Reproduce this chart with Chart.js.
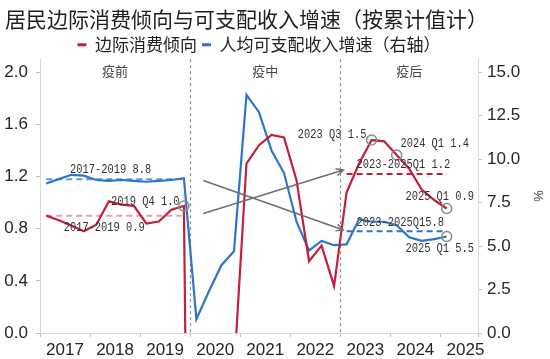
<!DOCTYPE html>
<html lang="zh-CN">
<head>
<meta charset="utf-8">
<title>居民边际消费倾向与可支配收入增速</title>
<script src="https://cdn.jsdelivr.net/npm/chart.js@4.4.1/dist/chart.umd.min.js"></script>
<style>
    html, body { margin: 0; padding: 0; background: #fff; }
    #wrap { width: 550px; height: 359px; }
</style>
</head>
<body>
<div id="wrap"><canvas id="mpcChart" width="550" height="359"></canvas></div>
<script>
(function() {
    'use strict';

    // 季度（2017Q1 ～ 2025Q1）
    const quarters = [
        '2017Q1', '2017Q2', '2017Q3', '2017Q4',
        '2018Q1', '2018Q2', '2018Q3', '2018Q4',
        '2019Q1', '2019Q2', '2019Q3', '2019Q4',
        '2020Q1', '2020Q2', '2020Q3', '2020Q4',
        '2021Q1', '2021Q2', '2021Q3', '2021Q4',
        '2022Q1', '2022Q2', '2022Q3', '2022Q4',
        '2023Q1', '2023Q2', '2023Q3', '2023Q4',
        '2024Q1', '2024Q2', '2024Q3', '2024Q4',
        '2025Q1'
    ];
    const years = ['2017', '2018', '2019', '2020', '2021', '2022', '2023', '2024', '2025'];

    // 边际消费倾向（左轴），2020 年前三季度为负值，落在图外
    const mpcValues = [
        0.90, 0.865, 0.825, 0.78,
        0.83, 1.01, 0.985, 0.975,
        0.84, 0.855, 0.945, 0.975,
        -8.0, -4.0, -1.8, -0.3,
        1.30, 1.44, 1.52, 1.50,
        1.17, 0.55, 0.67, 0.36,
        1.08, 1.30, 1.48, 1.47,
        1.365, 1.26, 1.10, 1.02,
        0.955
    ];

    // 人均可支配收入增速（右轴，%）
    const incomeGrowth = [
        8.6, 8.85, 9.1, 9.05,
        8.8, 8.75, 8.8, 8.75,
        8.7, 8.75, 8.8, 8.9,
        0.8, 2.4, 3.9, 4.7,
        13.7, 12.7, 10.5, 9.2,
        6.4, 4.75, 5.3, 5.05,
        5.1, 6.55, 6.4, 6.4,
        6.2, 5.5, 5.3, 5.4,
        5.55
    ];

    // 分阶段均值
    const mpcAvgPre = 0.9;
    const mpcAvgPost = 1.22;
    const incomeAvgPre = 8.85;
    const incomeAvgPost = 5.85;
    const prePeriod = ['2017Q1', '2019Q4'];
    const postPeriod = ['2023Q1', '2025Q1'];

    // 标注的季度
    const mpcMarked = ['2019Q4', '2023Q3', '2024Q1', '2025Q1'];
    const incomeMarked = ['2025Q1'];

    // 左右轴刻度
    const leftTicks = [0, 0.4, 0.8, 1.2, 1.6, 2.0];
    const rightTicks = [0, 2.5, 5, 7.5, 10, 12.5, 15];

    // 阶段划分
    const periods = [
        { name: '疫前', from: -0.5, to: 11.5 },
        { name: '疫中', from: 11.5, to: 23.5 },
        { name: '疫后', from: 23.5, to: 34.5 }
    ];

    // 箭头（左轴坐标）
    const arrows = [
        { x0: 12.55, y0: 1.17, x1: 23.74, y1: 0.79 },
        { x0: 12.55, y0: 0.917, x1: 23.74, y1: 1.25 }
    ];

    // 注释文字（左轴坐标，左对齐）
    const notes = [
        { text: '2017-2019 8.8', x: 1.9, y: 1.25 },
        { text: '2019 Q4 1.0', x: 5.17, y: 1.01 },
        { text: '2017-2019 0.9', x: 1.39, y: 0.81 },
        { text: '2023 Q3 1.5', x: 20.1, y: 1.52 },
        { text: '2024 Q1 1.4', x: 28.3, y: 1.455 },
        { text: '2023-2025Q1 1.2', x: 24.8, y: 1.295 },
        { text: '2025 Q1 0.9', x: 28.7, y: 1.045 },
        { text: '2023-2025Q15.8', x: 24.8, y: 0.85 },
        { text: '2025 Q1 5.5', x: 28.7, y: 0.65 }
    ];

    const RED = '#c0203c';
    const BLUE = '#2e75c8';
    const TICK_FONT = { family: '"Liberation Sans", Arial, sans-serif', size: 17 };
    const CJK = '"Noto Sans CJK SC", sans-serif';

    function toPoints(values) {
        return values.map((v, i) => ({ x: i, y: v }));
    }

    function avgLine(value, range) {
        const a = quarters.indexOf(range[0]);
        const b = quarters.indexOf(range[1]);
        return [{ x: a, y: value }, { x: b, y: value }];
    }

    function markRadius(marked) {
        const idx = marked.map(q => quarters.indexOf(q));
        return ctx => (idx.includes(ctx.dataIndex) ? 5 : 0);
    }

    // x 轴范围：2017Q1 前半格到 2025Q3 后半格
    const xMax = years.length * 4 - 1.5;
    const yearBounds = years.map((y, k) => k * 4 - 0.5).concat([xMax]);

    // 图例高度微调
    const legendTrim = {
        id: 'legendTrim',
        beforeUpdate(chart) {
            const lg = chart.legend;
            if (lg && !lg._trimmed) {
                const fit = lg.fit.bind(lg);
                lg.fit = function() {
                    fit();
                    this.height -= 4;
                };
                lg._trimmed = true;
            }
        }
    };

    function drawNote(ctx, text, px, py) {
        ctx.save();
        ctx.translate(px, py);
        ctx.scale(0.8, 1);
        ctx.fillText(text, 0, 0);
        ctx.restore();
    }

    function drawArrow(ctx, x0, y0, x1, y1) {
        const ang = Math.atan2(y1 - y0, x1 - x0);
        const len = 8;
        ctx.beginPath();
        ctx.moveTo(x0, y0);
        ctx.lineTo(x1, y1);
        ctx.moveTo(x1 - len * Math.cos(ang - 0.45), y1 - len * Math.sin(ang - 0.45));
        ctx.lineTo(x1, y1);
        ctx.lineTo(x1 - len * Math.cos(ang + 0.45), y1 - len * Math.sin(ang + 0.45));
        ctx.stroke();
    }

    // 阶段分隔线和标签（画在折线下面）
    const periodPlugin = {
        id: 'periods',
        beforeDatasetsDraw(chart) {
            const { ctx, chartArea, scales } = chart;
            ctx.save();
            ctx.strokeStyle = '#8f8f8f';
            ctx.lineWidth = 1.2;
            ctx.setLineDash([3, 3]);
            periods.slice(1).forEach(p => {
                const px = Math.round(scales.x.getPixelForValue(p.from)) + 0.5;
                ctx.beginPath();
                ctx.moveTo(px, chartArea.top);
                ctx.lineTo(px, chartArea.bottom);
                ctx.stroke();
            });
            ctx.setLineDash([]);
            ctx.fillStyle = '#444';
            ctx.font = '13px ' + CJK;
            ctx.textAlign = 'center';
            ctx.textBaseline = 'middle';
            periods.forEach(p => {
                const px = scales.x.getPixelForValue((p.from + p.to) / 2);
                ctx.fillText(p.name, px, chartArea.top + 12);
            });
            ctx.restore();
        }
    };

    // 箭头和注释（画在折线上面）
    const notePlugin = {
        id: 'notes',
        afterDatasetsDraw(chart) {
            const { ctx, scales } = chart;
            const xs = scales.x;
            const ys = scales.y;
            ctx.save();
            ctx.strokeStyle = '#6e6e6e';
            ctx.lineWidth = 1.5;
            arrows.forEach(a => {
                drawArrow(ctx,
                    xs.getPixelForValue(a.x0), ys.getPixelForValue(a.y0),
                    xs.getPixelForValue(a.x1), ys.getPixelForValue(a.y1));
            });
            ctx.fillStyle = '#333';
            ctx.font = '13px "Liberation Mono", "DejaVu Sans Mono", monospace';
            ctx.textAlign = 'left';
            ctx.textBaseline = 'middle';
            notes.forEach(n => {
                drawNote(ctx, n.text, xs.getPixelForValue(n.x), ys.getPixelForValue(n.y));
            });
            ctx.restore();
        }
    };

    const ctx = document.getElementById('mpcChart').getContext('2d');
    new Chart(ctx, {
        type: 'line',
        data: {
            datasets: [
                {
                    label: '边际消费倾向',
                    data: toPoints(mpcValues),
                    yAxisID: 'y',
                    borderColor: RED,
                    backgroundColor: RED,
                    borderWidth: 2.2,
                    pointRadius: markRadius(mpcMarked),
                    pointBorderColor: '#8c8c8c',
                    pointBackgroundColor: 'rgba(255,255,255,0)',
                    pointBorderWidth: 1.5,
                    order: 0
                },
                {
                    label: '人均可支配收入增速（右轴）',
                    data: toPoints(incomeGrowth),
                    yAxisID: 'y1',
                    borderColor: BLUE,
                    backgroundColor: BLUE,
                    borderWidth: 2.2,
                    pointRadius: markRadius(incomeMarked),
                    pointBorderColor: '#8c8c8c',
                    pointBackgroundColor: 'rgba(255,255,255,0)',
                    pointBorderWidth: 1.5,
                    order: 1
                },
                {
                    label: 'mpcAvgPre',
                    data: avgLine(mpcAvgPre, prePeriod),
                    yAxisID: 'y',
                    borderColor: '#e8a0aa',
                    borderWidth: 2,
                    borderDash: [6, 4],
                    pointRadius: 0,
                    order: 2
                },
                {
                    label: 'incomeAvgPre',
                    data: avgLine(incomeAvgPre, prePeriod),
                    yAxisID: 'y1',
                    borderColor: '#5b9bd5',
                    borderWidth: 2,
                    borderDash: [6, 4],
                    pointRadius: 0,
                    order: 2
                },
                {
                    label: 'mpcAvgPost',
                    data: avgLine(mpcAvgPost, postPeriod),
                    yAxisID: 'y',
                    borderColor: RED,
                    borderWidth: 2,
                    borderDash: [6, 4],
                    pointRadius: 0,
                    order: 2
                },
                {
                    label: 'incomeAvgPost',
                    data: avgLine(incomeAvgPost, postPeriod),
                    yAxisID: 'y1',
                    borderColor: BLUE,
                    borderWidth: 2,
                    borderDash: [6, 4],
                    pointRadius: 0,
                    order: 2
                }
            ]
        },
        options: {
            responsive: false,
            animation: false,
            events: [],
            layout: { padding: { left: 5, right: 0, top: 0, bottom: 0 } },
            scales: {
                x: {
                    type: 'linear',
                    min: -0.5,
                    max: xMax,
                    afterBuildTicks: scale => {
                        scale.ticks = yearBounds.map(v => ({ value: v }));
                    },
                    afterFit: scale => { scale.height = 26; },
                    ticks: {
                        autoSkip: false,
                        maxRotation: 0,
                        labelOffset: 25,
                        padding: 3,
                        color: '#262626',
                        font: TICK_FONT,
                        callback: (v, i) => years[i] || ''
                    },
                    grid: { drawOnChartArea: false, tickLength: 4, color: '#bfbfbf' },
                    border: { color: '#d9d9d9' }
                },
                y: {
                    position: 'left',
                    min: 0,
                    max: 2.1,
                    afterBuildTicks: scale => {
                        scale.ticks = leftTicks.map(v => ({ value: v }));
                    },
                    afterFit: scale => { scale.width = 35; },
                    ticks: {
                        padding: 8,
                        color: '#262626',
                        font: TICK_FONT,
                        callback: v => v.toFixed(1)
                    },
                    grid: { drawOnChartArea: false, tickLength: 4, color: '#bfbfbf' },
                    border: { color: '#d9d9d9' }
                },
                y1: {
                    position: 'right',
                    min: 0,
                    max: 15.75,
                    afterBuildTicks: scale => {
                        scale.ticks = rightTicks.map(v => ({ value: v }));
                    },
                    afterFit: scale => { scale.width = 72; },
                    ticks: {
                        padding: 5,
                        color: '#262626',
                        font: TICK_FONT,
                        callback: v => v.toFixed(1)
                    },
                    title: {
                        display: true,
                        text: '%',
                        color: '#444',
                        font: { family: '"Liberation Sans", Arial, sans-serif', size: 13 },
                        padding: { top: 5, bottom: 0 }
                    },
                    grid: { drawOnChartArea: false, tickLength: 4, color: '#bfbfbf' },
                    border: { color: '#d9d9d9' }
                }
            },
            plugins: {
                title: {
                    display: true,
                    text: '居民边际消费倾向与可支配收入增速（按累计值计）',
                    align: 'start',
                    color: '#1f1f1f',
                    font: { family: CJK, size: 21, weight: 'normal' },
                    padding: { top: 6, bottom: 0 }
                },
                legend: {
                    display: true,
                    position: 'top',
                    fullSize: false,
                    labels: {
                        color: '#222',
                        font: { family: CJK, size: 17 },
                        boxWidth: 9,
                        boxHeight: 3,
                        padding: 5,
                        filter: item => item.datasetIndex < 2,
                        generateLabels: chart => Chart.defaults.plugins.legend.labels
                            .generateLabels(chart)
                            .map(item => Object.assign(item, { lineWidth: 0 }))
                    }
                },
                tooltip: { enabled: false }
            }
        },
        plugins: [legendTrim, periodPlugin, notePlugin]
    });
})();
</script>
</body>
</html>
